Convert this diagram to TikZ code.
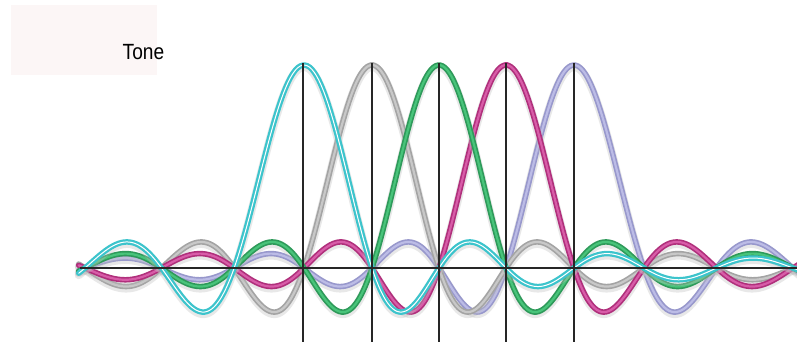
\documentclass[tikz,border=0pt]{standalone}
\usepackage{fontspec}
\setmainfont{Liberation Sans}
\definecolor{boxfill}{HTML}{FCF6F6}
\definecolor{cyanout}{HTML}{3CC4CC}
\definecolor{cyanin}{HTML}{FFFFFF}
\definecolor{grayout}{HTML}{A4A4A4}
\definecolor{grayin}{HTML}{C8C8C8}
\definecolor{greenout}{HTML}{2E9A5A}
\definecolor{greenin}{HTML}{48C47A}
\definecolor{magout}{HTML}{B0307C}
\definecolor{magin}{HTML}{D85CA8}
\definecolor{lavout}{HTML}{9898CC}
\definecolor{lavin}{HTML}{BCBCE6}
\tikzset{
  tubeshadow/.style={line width=8pt, draw=black!25, opacity=0.35, line cap=round, line join=round},
  tubeout/.style={line width=5.5pt, line cap=round, line join=round},
  tubein/.style={line width=2.2pt, line cap=round, line join=round},
  gridline/.style={line width=1.2pt, draw=black!85},
}
\newcommand{\tonecurve}[3]{%
  \draw[tubeshadow] plot[domain=-5.08:5.12, samples=301, smooth]
    ({439+66.87*\x+0.157*\x*\x*\x}, {270-203*sin(180*(\x-(#1)))/(pi*(\x-(#1)))});
  \draw[tubeout, draw=#2] plot[domain=-5.08:5.12, samples=301, smooth]
    ({439+66.87*\x+0.157*\x*\x*\x}, {268-203*sin(180*(\x-(#1)))/(pi*(\x-(#1)))});
  \draw[tubein, draw=#3] plot[domain=-5.08:5.12, samples=301, smooth]
    ({439+66.87*\x+0.157*\x*\x*\x}, {268-203*sin(180*(\x-(#1)))/(pi*(\x-(#1)))});
}
\begin{document}
\begin{tikzpicture}[x=1pt, y=-1pt]
\useasboundingbox[fill=white] (0,0) rectangle (797,342);
\node[fill=boxfill, minimum width=146pt, minimum height=70pt, inner sep=0pt, anchor=north west] (box) at (11,5) {};
\node[anchor=base west, inner sep=0pt, font=\fontsize{22}{24}\selectfont, xscale=0.87] (tone) at (122.5,60) {Tone};
\tonecurve{2}{lavout}{lavin}
\tonecurve{-1}{grayout}{grayin}
\tonecurve{1}{magout}{magin}
\tonecurve{0}{greenout}{greenin}
\draw[tubeshadow] plot[domain=-5.08:5.12, samples=301, smooth]
    ({439+66.87*\x+0.157*\x*\x*\x}, {270-203*sin(180*(\x+2))/(pi*(\x+2))});
\draw[tubeout, draw=cyanout] plot[domain=-5.08:5.12, samples=301, smooth]
    ({439+66.87*\x+0.157*\x*\x*\x}, {268-203*sin(180*(\x+2))/(pi*(\x+2))});
\draw[line width=1pt, draw=cyanin, line cap=round] plot[domain=-5.08:5.12, samples=301, smooth]
    ({439+66.87*\x+0.157*\x*\x*\x}, {268-203*sin(180*(\x+2))/(pi*(\x+2))});
% axis and markers
\coordinate (axL) at (80,268);
\coordinate (axR) at (797,268);
\draw[gridline] (axL) -- (axR);
\foreach \n/\px in {a/303, b/372, c/439, d/506, e/574}{
  \coordinate (t\n) at (\px,63);
  \coordinate (b\n) at (\px,342);
  \draw[gridline] (t\n) -- (b\n);
}
\end{tikzpicture}
\end{document}
